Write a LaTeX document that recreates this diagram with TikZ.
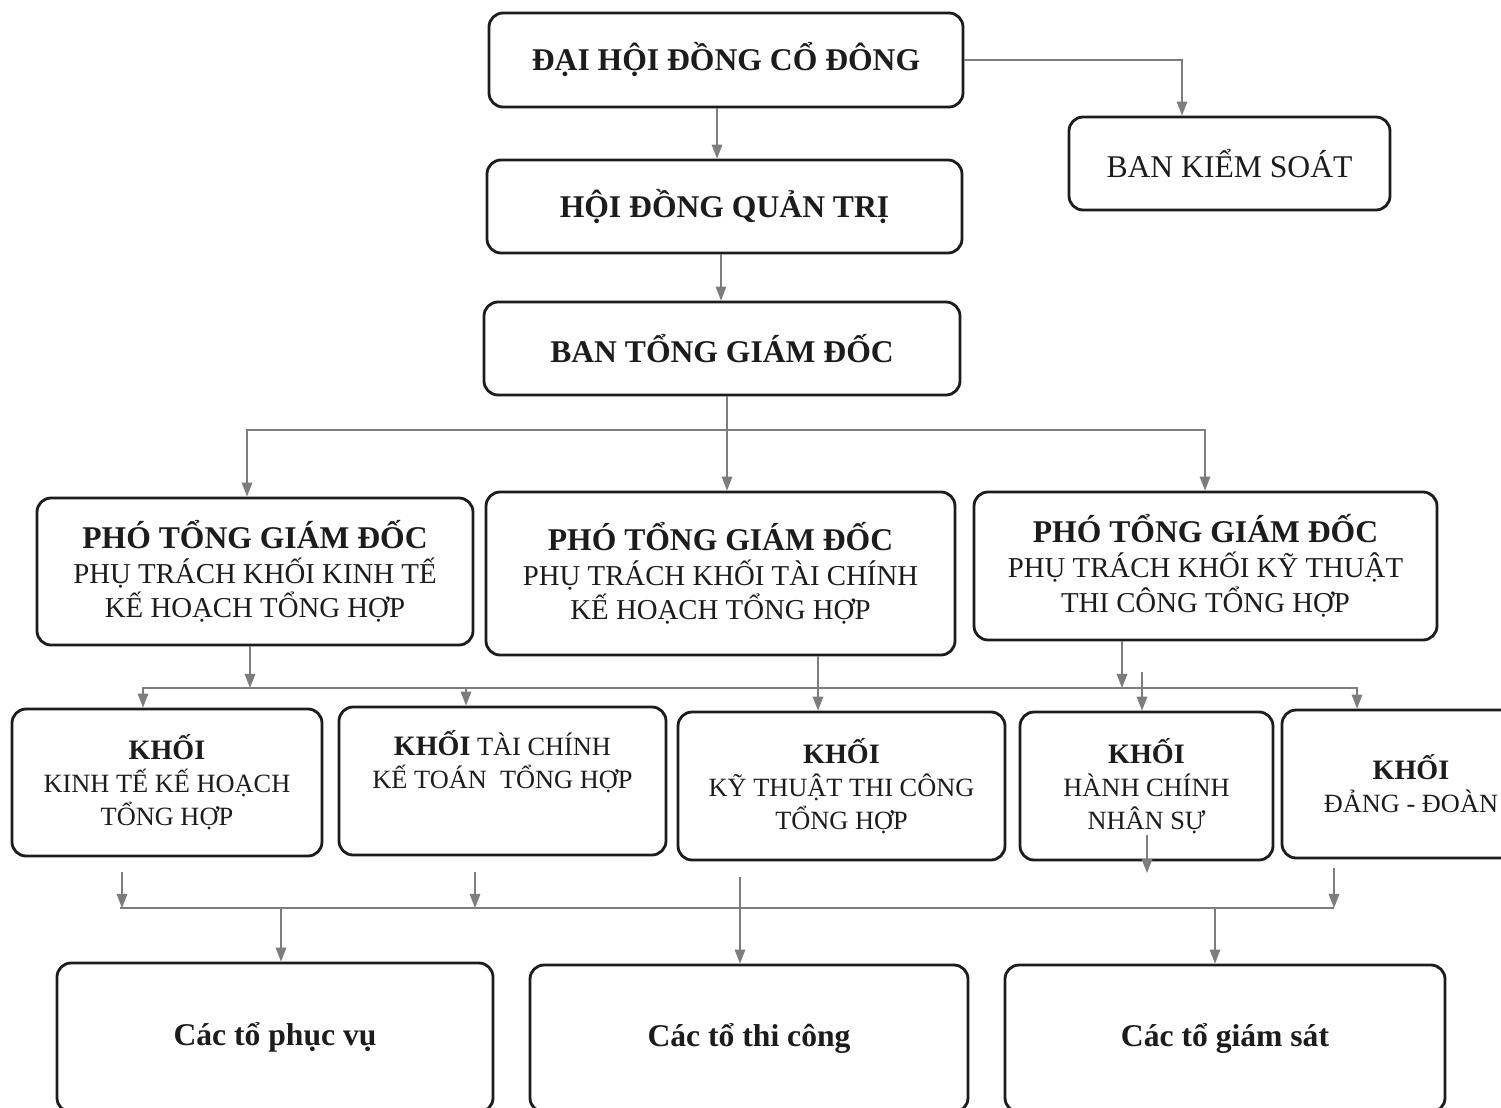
\documentclass[tikz,border=0pt]{standalone}
\usepackage{fontspec}
\setmainfont{Liberation Serif}
\usetikzlibrary{arrows.meta}
\definecolor{ln}{RGB}{125,125,125}
\definecolor{ink}{RGB}{28,28,28}
\begin{document}
\begin{tikzpicture}[x=0.02cm,y=-0.02cm,
  box/.style={draw=ink, line width=1.6pt, rounded corners=8pt, inner sep=0pt, align=center, fill=white, text=ink},
  sz/.style 2 args={minimum width=#1*0.02cm, minimum height=#2*0.02cm},
  topf/.style={font=\fontsize{18}{20}\selectfont\bfseries},
  regf/.style={font=\fontsize{18}{20}\selectfont},
  ptf/.style={font=\fontsize{16.4}{19.8}\selectfont},
  khf/.style={font=\fontsize{15}{18.7}\selectfont},
  conn/.style={draw=ln, line width=0.8pt, -{Triangle[length=8pt,width=6pt]}},
  bus/.style={draw=ln, line width=0.8pt}]
\fill[white] (0,0) rectangle (1501,1108);
\useasboundingbox (0,0) rectangle (1501,1108);

% level 1-3
\node[box,sz={474}{94},topf] (dh) at (726,60) {ĐẠI HỘI ĐỒNG CỔ ĐÔNG};
\node[box,sz={321}{93},regf] (bks) at (1229.5,163.5) {BAN KIỂM SOÁT};
\node[box,sz={475}{93},topf] (hd) at (724.5,206.5) {HỘI ĐỒNG QUẢN TRỊ};
\node[box,sz={476}{93},topf] (btgd) at (722,348.5) {BAN TỔNG GIÁM ĐỐC};

% deputies
\node[box,sz={436}{147},ptf] (p1) at (255,571.5)
  {{\fontsize{18}{19.8}\selectfont\bfseries PHÓ TỔNG GIÁM ĐỐC}\\PHỤ TRÁCH KHỐI KINH TẾ\\KẾ HOẠCH TỔNG HỢP};
\node[box,sz={469}{163},ptf] (p2) at (720.5,573.5)
  {{\fontsize{18}{19.8}\selectfont\bfseries PHÓ TỔNG GIÁM ĐỐC}\\PHỤ TRÁCH KHỐI TÀI CHÍNH\\KẾ HOẠCH TỔNG HỢP};
\node[box,sz={463}{148},ptf] (p3) at (1205.5,566)
  {{\fontsize{18}{19.8}\selectfont\bfseries PHÓ TỔNG GIÁM ĐỐC}\\PHỤ TRÁCH KHỐI KỸ THUẬT\\THI CÔNG TỔNG HỢP};

% blocks
\node[box,sz={310}{147},khf] (k1) at (167,782.5)
  {{\fontsize{16}{18.7}\selectfont\bfseries KHỐI}\\KINH TẾ KẾ HOẠCH\\TỔNG HỢP};
\node[box,sz={327}{148},khf] (k2) at (502.5,781)
  {{\fontsize{16}{18.7}\selectfont\bfseries KHỐI} TÀI CHÍNH\\KẾ TOÁN\ \ TỔNG HỢP\\\strut};
\node[box,sz={327}{148},khf] (k3) at (841.5,786)
  {{\fontsize{16}{18.7}\selectfont\bfseries KHỐI}\\KỸ THUẬT THI CÔNG\\TỔNG HỢP};
\node[box,sz={253}{148},khf] (k4) at (1146.5,786)
  {{\fontsize{16}{18.7}\selectfont\bfseries KHỐI}\\HÀNH CHÍNH\\NHÂN SỰ};
\node[box,sz={258}{148},khf] (k5) at (1411,784)
  {{\fontsize{16}{18.7}\selectfont\bfseries KHỐI}\\ĐẢNG - ĐOÀN};

% teams
\node[box,sz={436}{149},topf] (b1) at (275,1037.5) {Các tổ phục vụ};
\node[box,sz={438}{147},topf] (b2) at (749,1038.5) {Các tổ thi công};
\node[box,sz={440}{147},topf] (b3) at (1225,1038.5) {Các tổ giám sát};

% helper coordinates
\coordinate (X717) at (717,0);
\coordinate (X721) at (721,0);
\coordinate (X727) at (727,0);
\coordinate (X1182) at (1182,0);
\coordinate (X247) at (247,0);
\coordinate (X1205) at (1205,0);
\coordinate (X250) at (250,0);
\coordinate (X143) at (143,0);
\coordinate (X466) at (466,0);
\coordinate (X1357) at (1357,0);
\coordinate (X818) at (818,0);
\coordinate (X1122) at (1122,0);
\coordinate (X120) at (120,0);
\coordinate (X1334) at (1334,0);
\coordinate (X281) at (281,0);
\coordinate (X1215) at (1215,0);
\coordinate (j1) at (727,430);
\coordinate (j2) at (250,688);
\coordinate (j3) at (281,908);
\coordinate (f4) at (1142,672);
\coordinate (s1) at (122,872);
\coordinate (s2) at (475,872);
\coordinate (s3) at (740,877);
\coordinate (s5) at (1334,868);
\coordinate (t4a) at (1147,835);
\coordinate (t4b) at (1147,873);

% connectors
\draw[conn] (dh.south -| X717) -- (hd.north -| X717);
\draw[conn] (dh.east) -| (bks.north -| X1182);
\draw[conn] (hd.south -| X721) -- (btgd.north -| X721);
\draw[conn] (btgd.south -| X727) -- (p2.north -| X727);
\draw[conn] (j1) -| (p1.north -| X247);
\draw[conn] (j1) -| (p3.north -| X1205);

\draw[conn] (p1.south -| X250) -- (j2);
\draw[conn] (j2) -| (k1.north -| X143);
\draw[conn] (j2) -| (k2.north -| X466);
\draw[conn] (j2) -| (k5.north -| X1357);
\draw[conn] (p3.south -| X1122) -- (X1122 |- j2);
\draw[conn] (p2.south -| X818) -- (k3.north -| X818);
\draw[conn] (f4) -- (k4.north -| f4);

\draw[bus] (X120 |- j3) -- (X1334 |- j3);
\draw[conn] (s1) -- (s1 |- j3);
\draw[conn] (s2) -- (s2 |- j3);
\draw[conn] (s5) -- (s5 |- j3);
\draw[conn] (t4a) -- (t4b);
\draw[conn] (s3) -- (b2.north -| s3);
\draw[conn] (j3) -- (b1.north -| j3);
\draw[conn] (X1215 |- j3) -- (b3.north -| X1215);
\end{tikzpicture}
\end{document}
